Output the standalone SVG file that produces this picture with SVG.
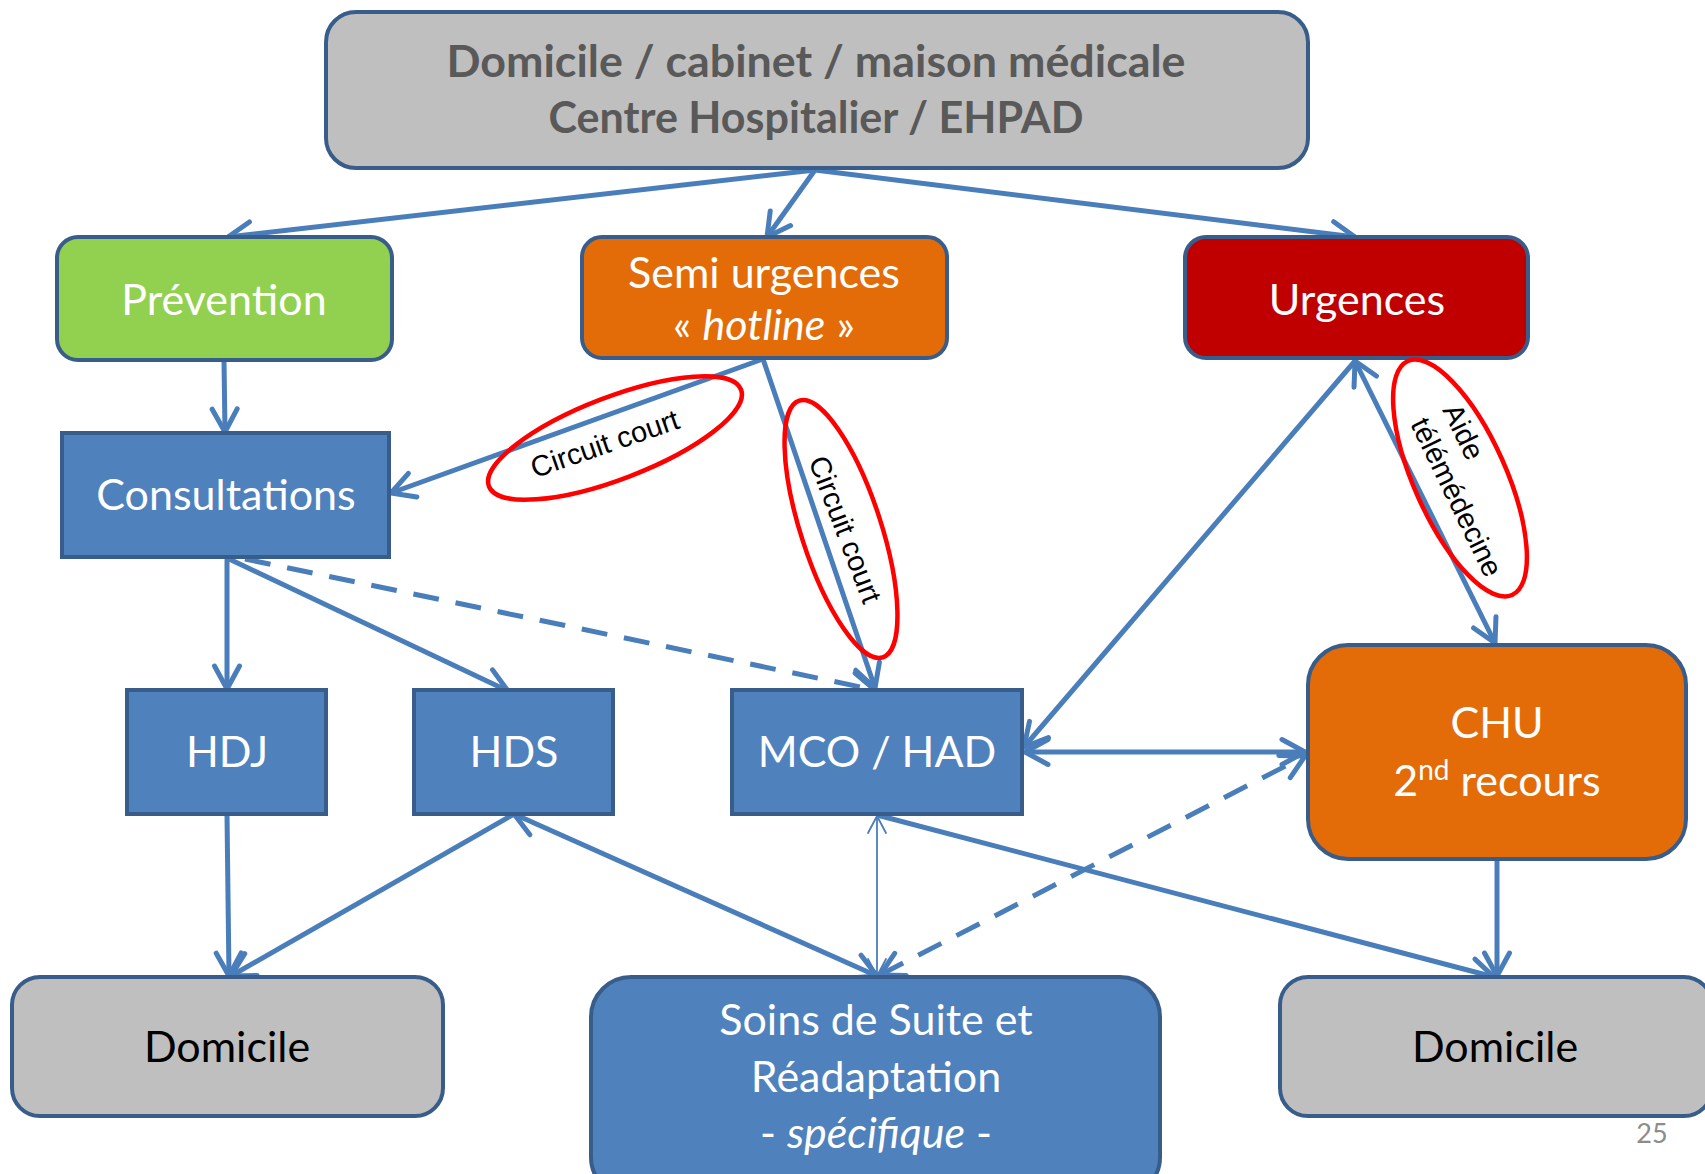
<svg xmlns="http://www.w3.org/2000/svg" width="1705" height="1174" viewBox="0 0 1705 1174">
  <style>
    .node { stroke: #385D8A; stroke-width: 4; }
    .grey { fill: #BFBFBF; }
    .blue { fill: #4F81BD; }
    .green { fill: #92D050; }
    .orange { fill: #E36C09; }
    .red { fill: #C00000; }
    .lbl { font-family: Lato, "Open Sans", "Liberation Sans", sans-serif; font-size: 43px; fill: #FFFFFF; text-anchor: middle; }
    .dark { fill: #000000; }
    .title { font-weight: bold; fill: #595959; font-size: 44px; }
    .it { font-style: italic; }
    .link { fill: none; stroke: #4A7EBB; stroke-width: 5; }
    .thin { fill: none; stroke: #4A7EBB; stroke-width: 1.8; }
    .dash { stroke-dasharray: 26 17; }
    .ring { fill: none; stroke: #FF0000; stroke-width: 4.5; }
    .note { font-family: "Liberation Sans", Arial, sans-serif; font-size: 29px; fill: #000000; }
    .page { font-family: Lato, "Open Sans", sans-serif; font-size: 27px; fill: #8C8C8C; }
  </style>
  <defs>
    <marker id="ah" viewBox="-27 -16 31 32" refX="0" refY="0" markerWidth="31" markerHeight="32" markerUnits="userSpaceOnUse" orient="auto-start-reverse">
      <path d="M-23,-12.5 L0,0 L-23,12.5" fill="none" stroke="#4A7EBB" stroke-width="5" stroke-linecap="round" stroke-linejoin="round"/>
    </marker>
    <marker id="ahThin" viewBox="-20 -11 23 22" refX="0" refY="0" markerWidth="23" markerHeight="22" markerUnits="userSpaceOnUse" orient="auto-start-reverse">
      <path d="M-17,-9 L0,0 L-17,9" fill="none" stroke="#4A7EBB" stroke-width="1.8" stroke-linecap="round" stroke-linejoin="round"/>
    </marker>
  </defs>

  <rect width="1705" height="1174" fill="#FFFFFF"/>

  <!-- connectors -->
  <g id="connectors">
    <line class="link" x1="815" y1="170" x2="228" y2="237" marker-end="url(#ah)"/>
    <line class="link" x1="815" y1="170" x2="767" y2="237" marker-end="url(#ah)"/>
    <line class="link" x1="815" y1="170" x2="1355" y2="237" marker-end="url(#ah)"/>
    <line class="link" x1="224" y1="361" x2="225" y2="432" marker-end="url(#ah)"/>
    <line class="link" x1="763" y1="359" x2="391" y2="493" marker-end="url(#ah)"/>
    <line class="link" x1="763" y1="359" x2="875" y2="688" marker-end="url(#ah)"/>
    <line class="link" x1="1355" y1="361" x2="1024" y2="747" marker-end="url(#ah)"/>
    <line class="link" x1="1355" y1="361" x2="1495" y2="643" marker-start="url(#ah)" marker-end="url(#ah)"/>
    <line class="link" x1="1025" y1="752" x2="1305" y2="752" marker-start="url(#ah)" marker-end="url(#ah)"/>
    <line class="link" x1="227" y1="558" x2="227" y2="689" marker-end="url(#ah)"/>
    <line class="link" x1="227" y1="558" x2="508" y2="691" marker-end="url(#ah)"/>
    <line class="link dash" x1="245" y1="559" x2="875" y2="690" marker-end="url(#ah)"/>
    <line class="link" x1="227" y1="815" x2="229" y2="976" marker-end="url(#ah)"/>
    <line class="link" x1="514" y1="814" x2="231" y2="976" marker-end="url(#ah)"/>
    <line class="link" x1="514" y1="814" x2="877" y2="976" marker-start="url(#ah)" marker-end="url(#ah)"/>
    <line class="thin" x1="877" y1="816" x2="877" y2="976" marker-start="url(#ahThin)" marker-end="url(#ahThin)"/>
    <line class="link" x1="877" y1="815" x2="1494" y2="977" marker-end="url(#ah)"/>
    <line class="link" x1="1497" y1="861" x2="1497" y2="976" marker-end="url(#ah)"/>
    <line class="link dash" x1="880" y1="975" x2="1305" y2="756" marker-start="url(#ah)" marker-end="url(#ah)"/>
  </g>

  <!-- nodes -->
  <g id="origine">
    <rect class="node grey" x="326" y="12" width="982" height="156" rx="30"/>
    <text class="lbl title" x="816" y="77" textLength="739" lengthAdjust="spacingAndGlyphs">Domicile / cabinet / maison médicale</text>
    <text class="lbl title" x="816" y="133" textLength="535" lengthAdjust="spacingAndGlyphs">Centre Hospitalier / EHPAD</text>
  </g>
  <g id="prevention">
    <rect class="node green" x="57" y="237" width="335" height="123" rx="21"/>
    <text class="lbl" x="224" y="315">Prévention</text>
  </g>
  <g id="semi-urgences">
    <rect class="node orange" x="582" y="237" width="365" height="121" rx="20"/>
    <text class="lbl" x="764" y="288">Semi urgences</text>
    <text class="lbl" x="764" y="340">« <tspan class="it">hotline</tspan> »</text>
  </g>
  <g id="urgences">
    <rect class="node red" x="1185" y="237" width="343" height="121" rx="21"/>
    <text class="lbl" x="1357" y="315">Urgences</text>
  </g>
  <g id="consultations">
    <rect class="node blue" x="62" y="433" width="327" height="124"/>
    <text class="lbl" x="226" y="510">Consultations</text>
  </g>
  <g id="hdj">
    <rect class="node blue" x="127" y="690" width="199" height="124"/>
    <text class="lbl" x="227" y="767">HDJ</text>
  </g>
  <g id="hds">
    <rect class="node blue" x="414" y="690" width="199" height="124"/>
    <text class="lbl" x="514" y="767">HDS</text>
  </g>
  <g id="mco-had">
    <rect class="node blue" x="732" y="690" width="290" height="124"/>
    <text class="lbl" x="877" y="767">MCO / HAD</text>
  </g>
  <g id="chu">
    <rect class="node orange" x="1308" y="645" width="378" height="214" rx="40"/>
    <text class="lbl" x="1497" y="738">CHU</text>
    <text class="lbl" x="1497" y="796">2<tspan dy="-16" font-size="28">nd</tspan><tspan dy="16"> recours</tspan></text>
  </g>
  <g id="domicile-gauche">
    <rect class="node grey" x="12" y="977" width="431" height="139" rx="28"/>
    <text class="lbl dark" x="227" y="1062">Domicile</text>
  </g>
  <g id="ssr">
    <rect class="node blue" x="591" y="977" width="569" height="220" rx="40"/>
    <text class="lbl" x="876" y="1035">Soins de Suite et</text>
    <text class="lbl" x="876" y="1092">Réadaptation</text>
    <text class="lbl" x="876" y="1148">- <tspan class="it">spécifique</tspan> -</text>
  </g>
  <g id="domicile-droite">
    <rect class="node grey" x="1280" y="977" width="432" height="139" rx="28"/>
    <text class="lbl dark" x="1495" y="1062">Domicile</text>
  </g>

  <!-- callouts -->
  <g id="circuit-court-consultations">
    <ellipse class="ring" cx="615" cy="438" rx="135" ry="41" transform="rotate(-21 615 438)"/>
    <text class="note" text-anchor="middle" transform="translate(608 453) rotate(-19)">Circuit court</text>
  </g>
  <g id="circuit-court-mco">
    <ellipse class="ring" cx="841" cy="529" rx="135" ry="40" transform="rotate(72 841 529)"/>
    <text class="note" text-anchor="middle" transform="translate(836 533) rotate(69)">Circuit court</text>
  </g>
  <g id="aide-telemedecine">
    <ellipse class="ring" cx="1460" cy="478" rx="128" ry="46" transform="rotate(66 1460 478)"/>
    <text class="note" transform="translate(1442 410) rotate(64)">Aide</text>
    <text class="note" transform="translate(1410 424) rotate(64)">télémédecine</text>
  </g>

  <text class="page" x="1652" y="1143" text-anchor="middle">25</text>
</svg>
